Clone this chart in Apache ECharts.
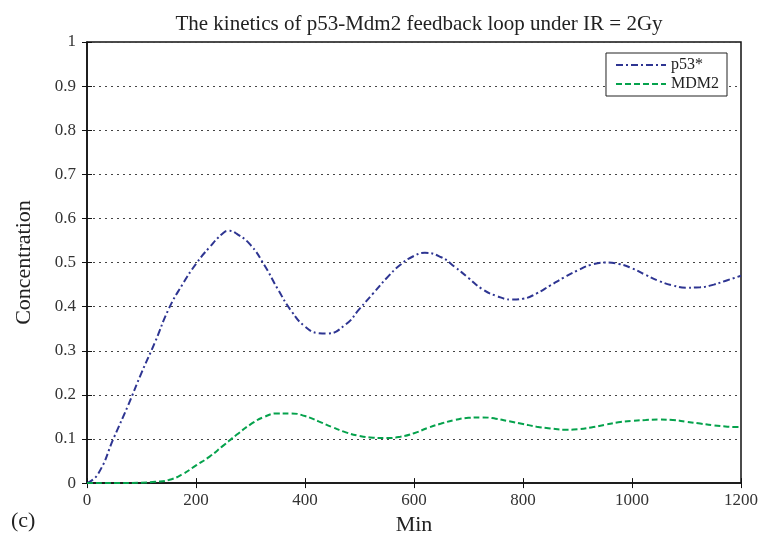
<!DOCTYPE html>
<html>
<head>
<meta charset="utf-8">
<script src="https://cdn.jsdelivr.net/npm/echarts@6/dist/echarts.min.js"></script>
<style>
  html, body { margin: 0; padding: 0; background: #fff; }
  #main { width: 762px; height: 541px; }
</style>
</head>
<body>
<div id="main"></div>
<script>
// values (time in min, concentration)
var p53Time = [0, 20, 50, 75, 100, 125, 150, 175, 200, 225, 250, 260, 275, 300, 325, 350, 375, 400, 425, 440, 475, 500, 525, 550, 575, 600, 620, 650, 675, 700, 725, 750, 780, 800, 825, 850, 875, 900, 925, 950, 975, 1000, 1025, 1050, 1075, 1100, 1125, 1150, 1175, 1200];
var p53Vals = [0, 0.02, 0.105, 0.175, 0.25, 0.32, 0.395, 0.45, 0.497, 0.535, 0.567, 0.572, 0.565, 0.54, 0.495, 0.44, 0.39, 0.355, 0.34, 0.339, 0.36, 0.395, 0.43, 0.465, 0.495, 0.515, 0.522, 0.512, 0.49, 0.465, 0.44, 0.425, 0.416, 0.418, 0.43, 0.448, 0.466, 0.482, 0.495, 0.5, 0.497, 0.487, 0.472, 0.458, 0.448, 0.443, 0.444, 0.45, 0.46, 0.47];

var mdmTime = [0, 50, 100, 125, 150, 175, 200, 225, 250, 275, 300, 325, 350, 375, 400, 425, 450, 475, 500, 525, 550, 575, 600, 625, 650, 675, 700, 725, 750, 775, 800, 825, 850, 875, 900, 925, 950, 975, 1000, 1025, 1050, 1075, 1100, 1125, 1150, 1175, 1200];
var mdmVals = [0, 0, 0.001, 0.003, 0.007, 0.02, 0.04, 0.06, 0.085, 0.11, 0.133, 0.15, 0.158, 0.158, 0.152, 0.14, 0.127, 0.115, 0.107, 0.103, 0.102, 0.105, 0.113, 0.125, 0.135, 0.143, 0.148, 0.149, 0.146, 0.14, 0.134, 0.128, 0.124, 0.121, 0.122, 0.126, 0.132, 0.138, 0.141, 0.143, 0.144, 0.143, 0.139, 0.135, 0.131, 0.128, 0.127];

var seriesNames = ['p53*', 'MDM2'];

function pairs(xs, ys) {
  var out = [];
  for (var i = 0; i < xs.length; i++) out.push([xs[i], ys[i]]);
  return out;
}

var chart = echarts.init(document.getElementById('main'), null, { renderer: 'canvas' });
var serif = '"Liberation Serif", "DejaVu Serif", serif';

var option = {
  backgroundColor: '#fff',
  animation: false,
  title: {
    text: 'The kinetics of p53-Mdm2 feedback loop under IR = 2Gy',
    left: 414,
    textAlign: 'center',
    top: 9,
    textStyle: { fontFamily: serif, fontSize: 21, fontWeight: 'normal', color: '#222' }
  },
  graphic: [{
    type: 'text', left: 11, top: 510,
    style: { text: '(c)', font: '22px ' + serif, fill: '#222' }
  }],
  legend: {
    orient: 'vertical',
    right: 35,
    top: 53,
    itemWidth: 50,
    itemHeight: 10,
    itemGap: 3,
    padding: [4, 8, 4, 9],
    borderColor: '#222',
    borderWidth: 1,
    backgroundColor: '#fff',
    itemStyle: { opacity: 0 },
    textStyle: { fontFamily: serif, fontSize: 16, color: '#222' },
    data: seriesNames
  },
  grid: {
    left: 87, right: 21, top: 42, bottom: 57,
    show: true, borderColor: '#111', borderWidth: 1.5
  },
  xAxis: [{
    type: 'value',
    min: 0, max: 1200, interval: 200,
    name: 'Min',
    nameLocation: 'middle',
    nameGap: 30,
    nameTextStyle: { fontFamily: serif, fontSize: 22, color: '#222' },
    axisLine: { show: true, lineStyle: { color: '#111', width: 1.5 } },
    axisTick: { inside: true, length: 5, lineStyle: { color: '#111' } },
    axisLabel: {
      fontFamily: serif, fontSize: 17, color: '#333', margin: 9,
      formatter: function (v) { return String(v); }
    },
    splitLine: { show: false }
  }, {
    type: 'value', position: 'top',
    min: 0, max: 1200, interval: 200,
    axisLine: { show: false },
    axisTick: { inside: true, length: 5, lineStyle: { color: '#111' } },
    axisLabel: { show: false },
    splitLine: { show: false }
  }],
  yAxis: [{
    type: 'value',
    min: 0, max: 1, interval: 0.1,
    name: 'Concentration',
    nameLocation: 'middle',
    nameGap: 52,
    nameTextStyle: { fontFamily: serif, fontSize: 22, color: '#222' },
    axisLine: { show: true, lineStyle: { color: '#111', width: 1.5 } },
    axisTick: { inside: true, length: 5, lineStyle: { color: '#111' } },
    axisLabel: {
      fontFamily: serif, fontSize: 17, color: '#333', margin: 11,
      formatter: function (v) { return String(Math.round(v * 10) / 10); }
    },
    splitLine: { show: true, lineStyle: { color: '#444', type: [2, 4], width: 1 } }
  }, {
    type: 'value', position: 'right',
    min: 0, max: 1, interval: 0.1,
    axisLine: { show: false },
    axisTick: { inside: true, length: 5, lineStyle: { color: '#111' } },
    axisLabel: { show: false },
    splitLine: { show: false }
  }],
  series: [{
    name: seriesNames[0],
    type: 'line',
    smooth: true,
    showSymbol: false,
    symbol: 'none',
    data: pairs(p53Time, p53Vals),
    itemStyle: { color: '#2e3592' },
    lineStyle: { color: '#2e3592', width: 2, type: [7, 3, 2, 3] }
  }, {
    name: seriesNames[1],
    type: 'line',
    smooth: true,
    showSymbol: false,
    symbol: 'none',
    data: pairs(mdmTime, mdmVals),
    itemStyle: { color: '#05a24c' },
    lineStyle: { color: '#05a24c', width: 2, type: [6, 3] }
  }]
};

chart.setOption(option);
</script>
</body>
</html>
